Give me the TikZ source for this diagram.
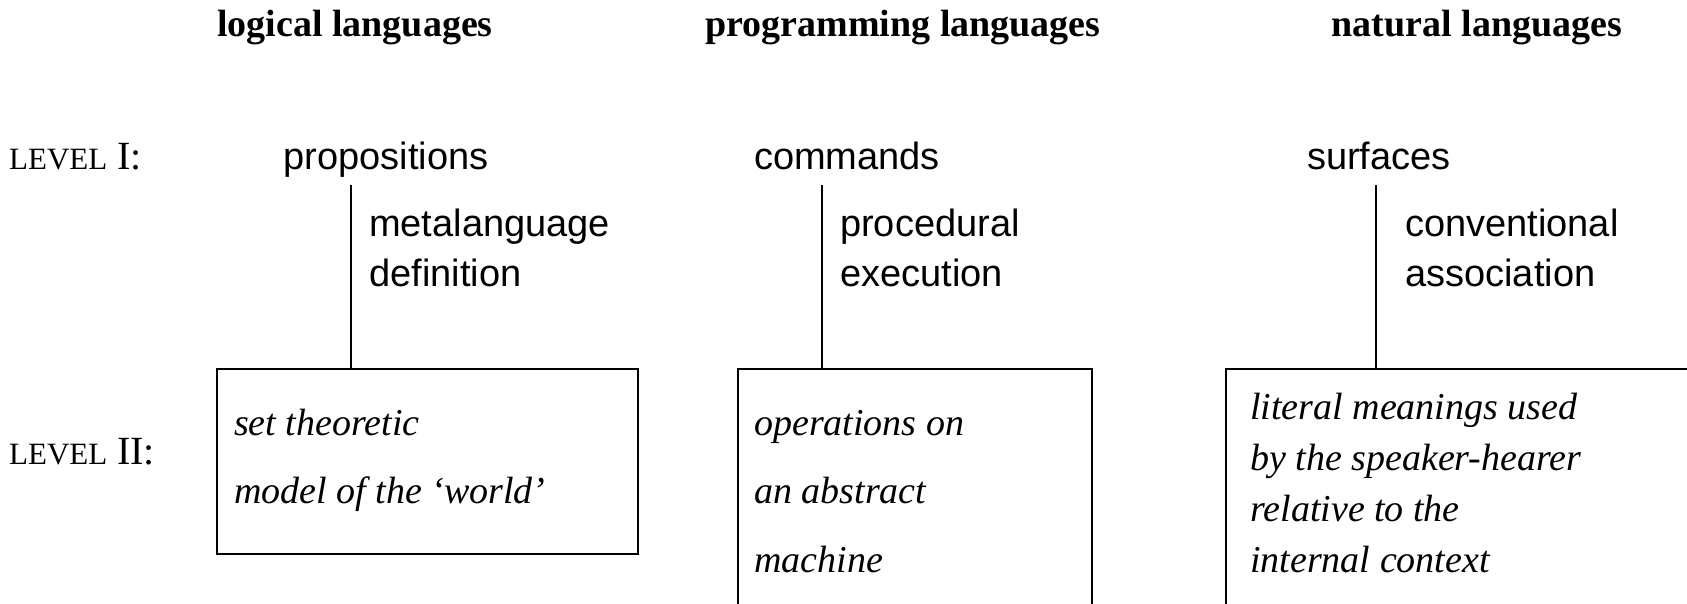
\documentclass[tikz,border=0pt]{standalone}
\usepackage{fontspec}
\setmainfont{Liberation Serif}
\setsansfont{Liberation Sans}
\usetikzlibrary{positioning}

\tikzset{
    head/.style={anchor=base, font=\fontsize{38}{38}\selectfont\bfseries},
    levellabel/.style={anchor=base west, inner sep=0pt, font=\fontsize{40}{40}\selectfont},
    term/.style={anchor=base, inner sep=0pt, font=\fontsize{38}{38}\selectfont\sffamily},
    relation/.style={anchor=base west, inner sep=0pt, font=\fontsize{38}{38}\selectfont\sffamily},
    meaning/.style={anchor=base west, inner sep=0pt, font=\fontsize{38}{38}\selectfont\itshape},
    levelbox/.style={draw, line width=2.4pt, anchor=north west, inner sep=0pt},
    link/.style={line width=2pt}
}
\newcommand{\lvl}[1]{{\fontsize{31}{31}\selectfont LEVEL}~#1:}

\begin{document}
\begin{tikzpicture}[x=1pt, y=-1pt]
    \useasboundingbox (0,0) rectangle (1687,603);
    \clip (0,0) rectangle (1687,603);

    % column headings
    \node[head] (hlog) at (355,36) {logical languages};
    \node[head] (hprog) at (903,36) {programming languages};
    \node[head] (hnat) at (1477,36) {natural languages};

    % levels
    \node[levellabel] (lvlone) at (9,169) {\lvl{I}};
    \node[levellabel] (lvltwo) at (9,464) {\lvl{II}};

    % level I
    \node[term] (prop) at (386,169) {propositions};
    \node[term] (cmd) at (847,169) {commands};
    \node[term] (surf) at (1379,169) {surfaces};

    \coordinate (logtop) at (351,185);
    \coordinate (progtop) at (822,185);
    \coordinate (nattop) at (1376,185);

    % level II boxes
    \node[levelbox, minimum width=421, minimum height=185] (logbox) at (216,368) {};
    \node[levelbox, minimum width=354, minimum height=260] (progbox) at (737,368) {};
    \node[levelbox, minimum width=500, minimum height=260] (natbox) at (1225,368) {};

    \draw[link] (logtop) -- (logtop |- logbox.north);
    \draw[link] (progtop) -- (progtop |- progbox.north);
    \draw[link] (nattop) -- (nattop |- natbox.north);

    % relations
    \node[relation] (rlog1) at (369,236) {metalanguage};
    \node[relation] (rlog2) at (369,286) {definition};
    \node[relation] (rprog1) at (840,236) {procedural};
    \node[relation] (rprog2) at (840,286) {execution};
    \node[relation] (rnat1) at (1405,236) {conventional};
    \node[relation] (rnat2) at (1405,286) {association};

    % meanings
    \foreach \t [count=\i] in {set theoretic, model of the `world'}
        \node[meaning] (mlog\i) at (234,366.5+68.5*\i) {\t};
    \foreach \t [count=\i] in {operations on, an abstract, machine}
        \node[meaning] (mprog\i) at (754,366.5+68.5*\i) {\t};
    \foreach \t [count=\i] in {literal meanings used, by the speaker-hearer, relative to the, internal context}
        \node[meaning] (mnat\i) at (1250,368.5+51*\i) {\t};
\end{tikzpicture}
\end{document}
